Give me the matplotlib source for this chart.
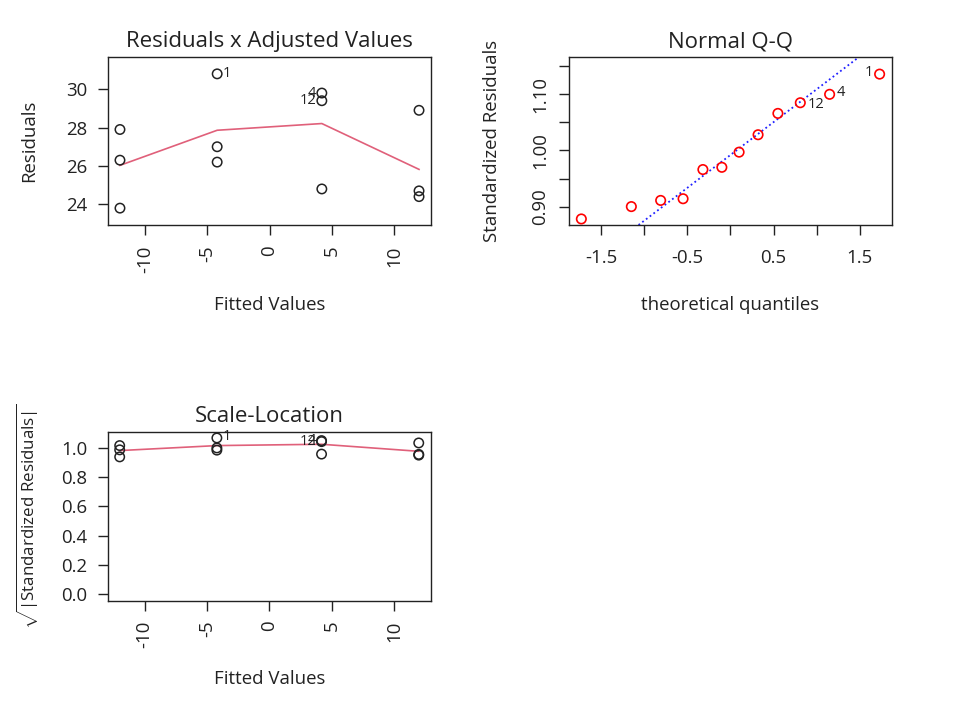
import numpy as np
import matplotlib
matplotlib.use('Agg')
import matplotlib.pyplot as plt

plt.rcParams['font.family'] = ['Open Sans', 'DejaVu Sans']
plt.rcParams['mathtext.fontset'] = 'custom'
plt.rcParams['mathtext.rm'] = 'Open Sans'
plt.rcParams['mathtext.it'] = 'Open Sans:italic'
plt.rcParams['mathtext.bf'] = 'Open Sans:bold'

# valores ajustados e residuos
fitted = [-12, -12, -12, -4.2, -4.2, -4.2, 4.2, 4.2, 4.2, 12, 12, 12]
residuals = [27.9, 26.3, 23.8, 30.8, 27.0, 26.2, 29.8, 29.4, 24.8, 28.9, 24.7, 24.4]

# curva suavizada (lowess)
smooth_x = [-12, -4.2, 4.2, 12]
smooth_res = [26.03, 27.86, 28.21, 25.82]
smooth_scale = [0.980, 1.014, 1.023, 0.975]

# Q-Q normal
theo_q = [-1.73, -1.15, -0.81, -0.55, -0.32, -0.10, 0.10, 0.32, 0.55, 0.81, 1.15, 1.73]
std_res = [0.878, 0.900, 0.911, 0.914, 0.966, 0.970, 0.997, 1.028, 1.066, 1.085, 1.100, 1.136]
qq_intercept = 0.992
qq_slope = 0.117

# sqrt(|residuos padronizados|)
sqrt_std = [1.014, 0.985, 0.937, 1.066, 0.998, 0.983, 1.048, 1.041, 0.956, 1.032, 0.954, 0.949]

FS = 13.4
TFS = 16
LFS = 10.5
INK = '#222222'
RED = '#E0607A'

fig = plt.figure(figsize=(9.55, 7.15), dpi=100)


def style_axes(ax):
    for s in ax.spines.values():
        s.set_linewidth(1.0)
        s.set_color(INK)
    ax.tick_params(direction='out', length=7.5, width=1.0, color=INK,
                   labelsize=FS, pad=7, labelcolor=INK)


# Residuos x Ajustados
ax1 = fig.add_axes([0.1131, 0.6853, 0.3382, 0.2350])
ax1.scatter(fitted, residuals, s=46, facecolors='none', edgecolors=INK, linewidths=1.1, zorder=3)
ax1.plot(smooth_x, smooth_res, color=RED, lw=1.2)
ax1.set_xlim(-12.96, 12.96)
ax1.set_ylim(22.92, 31.68)
ax1.set_xticks([-10, -5, 0, 5, 10])
ax1.set_xticklabels(['-10', '-5', '0', '5', '10'], rotation=90)
ax1.set_yticks([24, 26, 28, 30])
style_axes(ax1)
ax1.set_title('Residuals x Adjusted Values', fontsize=TFS, pad=7, color=INK)
ax1.set_xlabel('Fitted Values', fontsize=FS, color=INK)
ax1.set_ylabel('Residuals', fontsize=FS, color=INK)
ax1.xaxis.label.set_va('center')
ax1.xaxis.set_label_coords(0.5, -0.476)
ax1.yaxis.label.set_va('center')
ax1.yaxis.set_label_coords(-0.2446, 0.5)
ax1.annotate('1', (-4.2, 30.8), xytext=(4, 0), textcoords='offset points', ha='left', va='center', fontsize=LFS, color=INK)
ax1.annotate('4', (4.2, 29.8), xytext=(-4, 0), textcoords='offset points', ha='right', va='center', fontsize=LFS, color=INK)
ax1.annotate('12', (4.2, 29.4), xytext=(-4, 0), textcoords='offset points', ha='right', va='center', fontsize=LFS, color=INK)

# Normal Q-Q
ax2 = fig.add_axes([0.5961, 0.6853, 0.3376, 0.2350])
ax2.scatter(theo_q, std_res, s=46, facecolors='none', edgecolors='#FF0000', linewidths=1.2, zorder=3)
ax2.axline((0, qq_intercept), slope=qq_slope, color='#2020FF', ls=(0, (1, 1.6)), lw=1.3)
ax2.set_xlim(-1.87, 1.87)
ax2.set_ylim(0.8672, 1.1665)
ax2.set_xticks([-1.5, -1.0, -0.5, 0, 0.5, 1.0, 1.5])
ax2.set_xticklabels(['-1.5', '', '-0.5', '', '0.5', '', '1.5'])
ax2.set_yticks([0.90, 0.95, 1.00, 1.05, 1.10, 1.15])
ax2.set_yticklabels(['0.90', '', '1.00', '', '1.10', ''], rotation=90, va='center')
style_axes(ax2)
ax2.tick_params(axis='x', pad=10)
ax2.set_title('Normal Q-Q', fontsize=TFS, pad=7, color=INK)
ax2.set_xlabel('theoretical quantiles', fontsize=FS, color=INK)
ax2.set_ylabel('Standardized Residuals', fontsize=FS, color=INK)
ax2.xaxis.label.set_va('center')
ax2.xaxis.set_label_coords(0.5, -0.476)
ax2.yaxis.label.set_va('center')
ax2.yaxis.set_label_coords(-0.2407, 0.5)
ax2.annotate('1', (1.73, 1.136), xytext=(-5, 1), textcoords='offset points', ha='right', va='center', fontsize=LFS, color=INK)
ax2.annotate('12', (0.81, 1.085), xytext=(5, -1), textcoords='offset points', ha='left', va='center', fontsize=LFS, color=INK)
ax2.annotate('4', (1.15, 1.100), xytext=(5, 1), textcoords='offset points', ha='left', va='center', fontsize=LFS, color=INK)

# Scale-Location
ax3 = fig.add_axes([0.1128, 0.1599, 0.3382, 0.2364])
ax3.scatter(fitted, sqrt_std, s=46, facecolors='none', edgecolors=INK, linewidths=1.1, zorder=3)
ax3.plot(smooth_x, smooth_scale, color=RED, lw=1.2)
ax3.set_xlim(-12.96, 12.96)
ax3.set_ylim(-0.043, 1.109)
ax3.set_xticks([-10, -5, 0, 5, 10])
ax3.set_xticklabels(['-10', '-5', '0', '5', '10'], rotation=90)
ax3.set_yticks([0.0, 0.2, 0.4, 0.6, 0.8, 1.0])
ax3.set_yticklabels(['0.0', '0.2', '0.4', '0.6', '0.8', '1.0'])
style_axes(ax3)
ax3.set_title('Scale-Location', fontsize=TFS, pad=7, color=INK)
ax3.set_xlabel('Fitted Values', fontsize=FS, color=INK)
ax3.set_ylabel(r'$\sqrt{|\mathrm{Standardized\ Residuals}|}$', fontsize=12.2, color=INK)
ax3.xaxis.label.set_va('center')
ax3.xaxis.set_label_coords(0.5, -0.465)
ax3.yaxis.label.set_va('center')
ax3.yaxis.set_label_coords(-0.2467, 0.5)
ax3.annotate('1', (-4.2, 1.066), xytext=(4, 1), textcoords='offset points', ha='left', va='center', fontsize=LFS, color=INK)
ax3.annotate('4', (4.2, 1.048), xytext=(-4, 0), textcoords='offset points', ha='right', va='center', fontsize=LFS, color=INK)
ax3.annotate('12', (4.2, 1.041), xytext=(-4, 0), textcoords='offset points', ha='right', va='center', fontsize=LFS, color=INK)

fig.savefig('out.png', dpi=100)
